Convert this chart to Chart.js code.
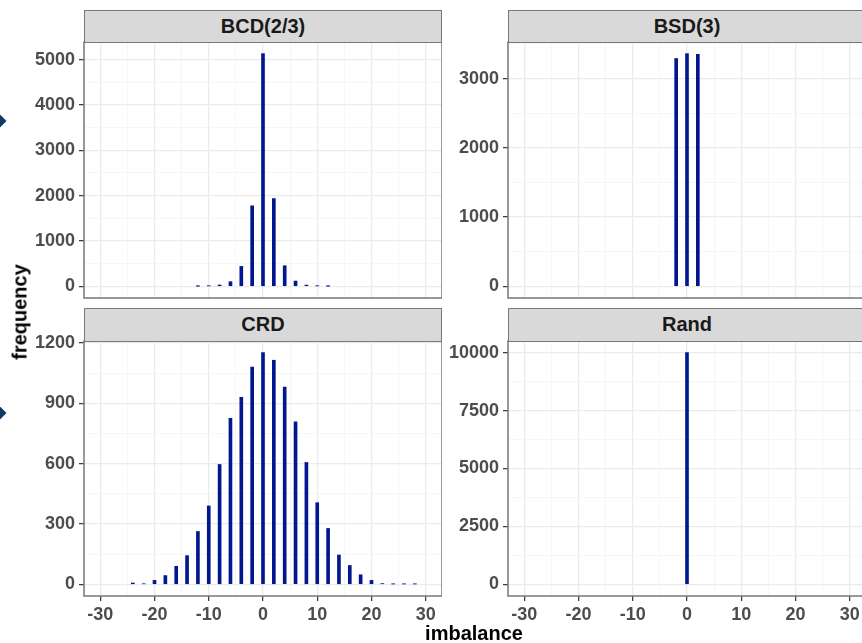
<!DOCTYPE html>
<html>
<head>
<meta charset="utf-8">
<script src="https://cdn.jsdelivr.net/npm/chart.js"></script>
<style>
  html, body { margin: 0; padding: 0; background: #fff; overflow: hidden; }
  #page { position: relative; width: 862px; height: 643px; overflow: hidden;
          font-family: "Liberation Sans", Arial, Helvetica, sans-serif; }
  #page canvas { position: absolute; }
  .strip { position: absolute; box-sizing: border-box; background: #d9d9d9;
           border: 1.5px solid #777; color: #1a1a1a; font-weight: bold;
           font-size: 20px; text-align: center; z-index: 2; }
  .axis-title { position: absolute; font-weight: bold; font-size: 20px; color: #000; white-space: nowrap; }
  .bullet { position: absolute; width: 12px; height: 12px; background: #0d3b66; transform: rotate(45deg); }
</style>
</head>
<body>
<div id="page">
  <div class="bullet" style="left:-8px; top:115px;"></div>
  <div class="bullet" style="left:-8px; top:407px;"></div>

  <div class="strip" style="left:84px; top:10px; width:358px; height:33px; line-height:30px;">BCD(2/3)</div>
  <div class="strip" style="left:508px; top:10px; width:358px; height:33px; line-height:30px;">BSD(3)</div>
  <div class="strip" style="left:84px; top:308px; width:358px; height:34px; line-height:31px;">CRD</div>
  <div class="strip" style="left:508px; top:308px; width:358px; height:34px; line-height:31px;">Rand</div>

  <canvas id="bcd" width="442" height="304" style="left:0; top:18px;"></canvas>
  <canvas id="bsd" width="424" height="304" style="left:442px; top:18px;"></canvas>
  <canvas id="crd" width="442" height="309" style="left:0; top:317px;"></canvas>
  <canvas id="rand" width="424" height="309" style="left:442px; top:317px;"></canvas>

  <div class="axis-title" style="left:20px; top:312px; transform: translate(-50%, -50%) rotate(-90deg);">frequency</div>
  <div class="axis-title" style="left:474px; top:633px; transform: translate(-50%, -50%);">imbalance</div>
</div>

<script>
// imbalance (treated minus control) and how often each value came up, per design
const bcdImbalance = [-12, -10, -8, -6, -4, -2, 0, 2, 4, 6, 8, 10, 12];
const bcdFreq = [3, 10, 30, 103, 440, 1775, 5130, 1935, 455, 117, 28, 10, 3];

const bsdImbalance = [-2, 0, 2];
const bsdFreq = [3290, 3360, 3350];

const crdImbalance = [-24, -22, -20, -18, -16, -14, -12, -10, -8, -6, -4, -2, 0,
                      2, 4, 6, 8, 10, 12, 14, 16, 18, 20, 22, 24, 26, 28];
const crdFreq = [7, 3, 20, 44, 90, 143, 263, 390, 596, 825, 930, 1080, 1152,
                 1114, 981, 808, 606, 406, 278, 146, 94, 48, 20, 4, 2, 2, 2];

const randImbalance = [0];
const randFreq = [10000];

// tick labels
const xTicks = [-30, -20, -10, 0, 10, 20, 30];
const bcdTicks = [0, 1000, 2000, 3000, 4000, 5000];
const bsdTicks = [0, 1000, 2000, 3000];
const crdTicks = [0, 300, 600, 900, 1200];
const randTicks = [0, 2500, 5000, 7500, 10000];

const X_MIN = -33, X_MAX = 33;
const BAR = '#00178f';
const TICK_FONT = { family: '"Liberation Sans", Arial, sans-serif', size: 18, weight: 'bold' };
const EDGE = 24; // spare room above/below the plot so labels never squeeze it

// majors plus the half-way minor lines, kept inside [lo, hi]
function withMinors(major, lo, hi) {
  const step = major[1] - major[0];
  const out = [];
  for (let v = major[0] - step / 2; v <= hi; v += step / 2) {
    if (v >= lo) out.push(v);
  }
  return out;
}

const panelBorder = {
  id: 'panelBorder',
  afterDraw(chart) {
    const a = chart.chartArea;
    const ctx = chart.ctx;
    ctx.save();
    ctx.strokeStyle = '#777';
    ctx.lineWidth = 1.5;
    ctx.strokeRect(a.left, a.top, a.right - a.left, a.bottom - a.top);
    ctx.restore();
  }
};

function gridFor(major) {
  const isMajor = (c) => c.tick && major.includes(c.tick.value);
  return {
    color: (c) => isMajor(c) ? '#ebebeb' : '#f4f4f4',
    lineWidth: (c) => isMajor(c) ? 1.3 : 0.8,
    tickColor: (c) => isMajor(c) ? '#333' : 'rgba(0,0,0,0)',
    tickWidth: 1.2,
    tickLength: 5,
    offset: false
  };
}

function makePanel(id, xs, ys, yTicks, yAxisWidth, showX) {
  const top = Math.max(...ys);
  const yMin = -0.05 * top, yMax = 1.05 * top;

  const xGrid = gridFor(xTicks);
  if (!showX) xGrid.drawTicks = false;

  new Chart(document.getElementById(id), {
    type: 'bar',
    data: {
      datasets: [{
        data: xs.map((x, i) => ({ x: x, y: ys[i] })),
        backgroundColor: BAR,
        borderWidth: 0,
        barThickness: 3
      }]
    },
    options: {
      responsive: false,
      animation: false,
      layout: { padding: { top: EDGE, bottom: showX ? 0 : EDGE, left: 0, right: 0 } },
      plugins: { legend: { display: false }, tooltip: { enabled: false } },
      scales: {
        x: {
          type: 'linear',
          min: X_MIN,
          max: X_MAX,
          offset: false,
          border: { display: false },
          grid: xGrid,
          afterBuildTicks: (s) => { s.ticks = withMinors(xTicks, X_MIN, X_MAX).map(v => ({ value: v })); },
          afterFit: (s) => { s.height = showX ? 30 : 0; },
          ticks: {
            display: showX,
            autoSkip: false,
            maxRotation: 0,
            padding: 3,
            color: '#4d4d4d',
            font: TICK_FONT,
            callback: (v) => xTicks.includes(v) ? String(v) : ''
          }
        },
        y: {
          min: yMin,
          max: yMax,
          border: { display: false },
          grid: gridFor(yTicks),
          afterBuildTicks: (s) => { s.ticks = withMinors(yTicks, yMin, yMax).map(v => ({ value: v })); },
          afterFit: (s) => { s.width = yAxisWidth; },
          ticks: {
            autoSkip: false,
            padding: 4,
            color: '#4d4d4d',
            font: TICK_FONT,
            callback: (v) => yTicks.includes(v) ? String(v) : ''
          }
        }
      }
    },
    plugins: [panelBorder]
  });
}

makePanel('bcd', bcdImbalance, bcdFreq, bcdTicks, 84, false);
makePanel('bsd', bsdImbalance, bsdFreq, bsdTicks, 66, false);
makePanel('crd', crdImbalance, crdFreq, crdTicks, 84, true);
makePanel('rand', randImbalance, randFreq, randTicks, 66, true);
</script>
</body>
</html>
